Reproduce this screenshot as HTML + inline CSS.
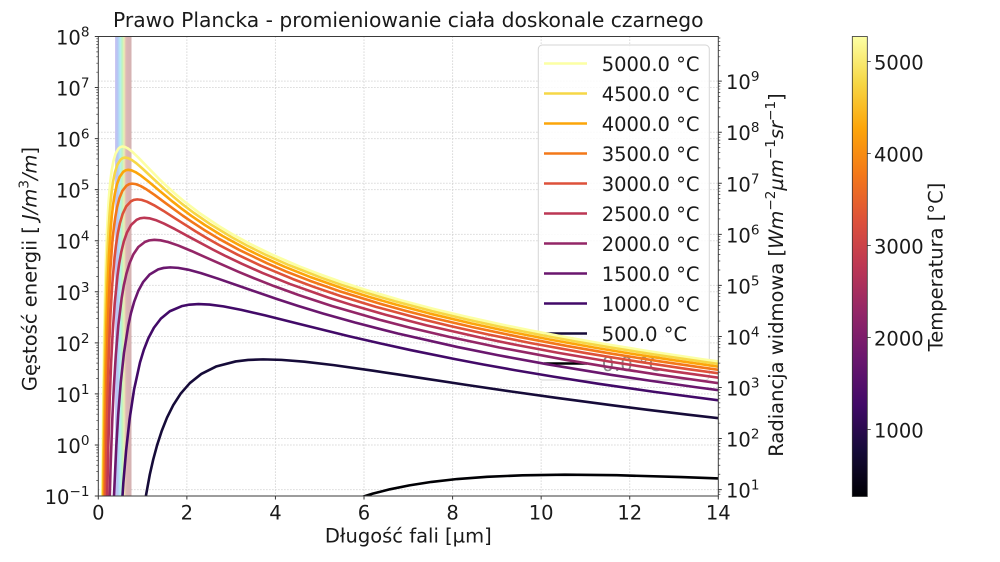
<!DOCTYPE html>
<html><head><meta charset="utf-8">
<style>
html,body{margin:0;padding:0;background:#fff;width:1000px;height:562px;overflow:hidden;}
svg{display:block;font-family:"DejaVu Sans","Liberation Sans",sans-serif;}
text{fill:#1a1a1a;}
</style></head><body>
<svg width="1000" height="562" viewBox="0 0 1000 562" xmlns="http://www.w3.org/2000/svg">
<defs>
<clipPath id="clip"><rect x="98.3" y="36.5" width="620" height="459.5"/></clipPath>
<linearGradient id="vis" x1="0" y1="0" x2="1" y2="0">
<stop offset="0" stop-color="#c8bef0"/>
<stop offset="0.16" stop-color="#b4c8f5"/>
<stop offset="0.32" stop-color="#b4f0f0"/>
<stop offset="0.43" stop-color="#bef5be"/>
<stop offset="0.55" stop-color="#ecefb6"/>
<stop offset="0.61" stop-color="#e6ccb4"/>
<stop offset="0.7" stop-color="#dcb6b6"/>
<stop offset="1" stop-color="#d4b2b2"/>
</linearGradient>
<linearGradient id="inf" x1="0" y1="1" x2="0" y2="0">
<stop offset="0" stop-color="#000004"/>
<stop offset="0.1" stop-color="#160b39"/>
<stop offset="0.2" stop-color="#420a68"/>
<stop offset="0.3" stop-color="#6a176e"/>
<stop offset="0.4" stop-color="#932667"/>
<stop offset="0.5" stop-color="#bc3754"/>
<stop offset="0.6" stop-color="#dd513a"/>
<stop offset="0.7" stop-color="#f37819"/>
<stop offset="0.8" stop-color="#fca50a"/>
<stop offset="0.9" stop-color="#f6d746"/>
<stop offset="1" stop-color="#fcffa4"/>
</linearGradient>
</defs>
<rect width="1000" height="562" fill="#fff"/>

<!-- grid -->
<path d="M186.87 36.5V496M275.44 36.5V496M364.01 36.5V496M452.59 36.5V496M541.16 36.5V496M629.73 36.5V496
M98.3 444.94H718.3M98.3 393.89H718.3M98.3 342.83H718.3M98.3 291.78H718.3M98.3 240.72H718.3M98.3 189.66H718.3M98.3 138.61H718.3M98.3 87.55H718.3
M98.3 489.6H718.3M98.3 438.55H718.3M98.3 387.5H718.3M98.3 336.44H718.3M98.3 285.39H718.3M98.3 234.33H718.3M98.3 183.28H718.3M98.3 132.22H718.3M98.3 81.17H718.3" stroke="#cfcfcf" stroke-width="1" stroke-dasharray="1.2 1.8" fill="none"/>

<rect x="115.1" y="36.5" width="16.4" height="459.5" fill="url(#vis)"/>

<!-- legend -->
<rect x="538.3" y="45" width="171" height="335" rx="4" ry="4" fill="#fff" fill-opacity="0.85" stroke="#d5d5d5" stroke-width="1"/>
<g stroke-width="2.6">
<line x1="544" y1="63.5" x2="587" y2="63.5" stroke="#fcffa4"/>
<line x1="544" y1="93.5" x2="587" y2="93.5" stroke="#f6d746"/>
<line x1="544" y1="123.5" x2="587" y2="123.5" stroke="#fca50a"/>
<line x1="544" y1="153.5" x2="587" y2="153.5" stroke="#f37819"/>
<line x1="544" y1="183.5" x2="587" y2="183.5" stroke="#dd513a"/>
<line x1="544" y1="213.5" x2="587" y2="213.5" stroke="#bc3754"/>
<line x1="544" y1="243.5" x2="587" y2="243.5" stroke="#932667"/>
<line x1="544" y1="273.5" x2="587" y2="273.5" stroke="#6a176e"/>
<line x1="544" y1="303.5" x2="587" y2="303.5" stroke="#420a68"/>
<line x1="544" y1="333.5" x2="587" y2="333.5" stroke="#160b39"/>
<line x1="544" y1="363.5" x2="587" y2="363.5" stroke="#000004"/>
</g>
<g font-size="19.5">
<text x="601.7" y="70.8">5000.0 °C</text>
<text x="601.7" y="100.8">4500.0 °C</text>
<text x="601.7" y="130.8">4000.0 °C</text>
<text x="601.7" y="160.8">3500.0 °C</text>
<text x="601.7" y="190.8">3000.0 °C</text>
<text x="601.7" y="220.8">2500.0 °C</text>
<text x="601.7" y="250.8">2000.0 °C</text>
<text x="601.7" y="280.8">1500.0 °C</text>
<text x="601.7" y="310.8">1000.0 °C</text>
<text x="601.7" y="340.8">500.0 °C</text>
<text x="601.7" y="370.8" style="fill:#8a8a8a">0.0 °C</text>
</g>

<!-- curves -->
<g clip-path="url(#clip)" fill="none" stroke-width="2.6" stroke-linejoin="round">
<path stroke="#fcffa4" d="M734.3 363.68L702.5 359.24 647.57 351.02 601.8 343.53 563.07 336.66 529.87 330.32 501.1 324.43 464.48 316.33 433.97 308.97 400.4 300.09 366.83 290.24 339.98 281.49 318.01 273.64 299.7 266.53 270.93 254.09 249.35 243.49 232.57 234.31 219.14 226.24 199 212.69 184.61 201.7 173.83 192.61 165.43 184.98 158.72 178.52 146.64 166.19 138.58 157.83 132.83 152.28 128.51 148.83 125.15 147.02 122.47 146.52 120.27 147.1 118.44 148.58 115.56 153.69 113.41 161.08 111.73 170.2 110.38 180.69 109.29 192.3 108.37 204.83 106.93 232.09 105.85 261.62 105.01 292.91 104.34 325.57 103.55 376.61 102.95 429.52 102.47 483.95 102.08 539.55"/>
<path stroke="#f6d746" d="M733.97 366.08L705.07 362.07 654.51 354.58 611.72 347.71 575.05 341.37 543.27 335.48 502.82 327.38 469.11 320.02 432.03 311.14 394.94 301.29 365.28 292.54 341.01 284.69 320.78 277.58 289 265.14 265.16 254.54 246.62 245.36 231.79 237.29 209.54 223.74 193.65 212.75 181.73 203.66 172.46 196.03 165.05 189.57 151.7 177.24 142.8 168.88 136.44 163.33 131.67 159.88 127.96 158.07 125 157.57 122.57 158.15 120.55 159.63 117.37 164.74 114.99 172.13 113.13 181.25 111.65 191.74 110.44 203.35 109.42 215.88 107.84 243.14 106.64 272.67 105.72 303.96 104.97 336.62 104.1 387.66 103.43 440.57 102.9 495 102.47 545"/>
<path stroke="#fca50a" d="M719.59 366.84L671.8 359.97 630.84 353.63 595.33 347.74 550.15 339.64 512.49 332.28 471.08 323.4 429.66 313.55 396.52 304.8 369.41 296.95 346.82 289.84 311.31 277.4 284.69 266.8 263.98 257.62 247.41 249.55 222.56 236 204.81 225.01 191.49 215.92 181.14 208.29 172.86 201.83 157.94 189.5 148 181.14 140.9 175.59 135.58 172.14 131.44 170.33 128.12 169.83 125.41 170.41 123.15 171.89 119.6 177 116.94 184.39 114.87 193.51 113.21 204 111.86 215.61 110.73 228.14 108.95 255.4 107.62 284.93 106.58 316.22 105.76 348.88 104.78 399.92 104.03 452.83 103.44 507.26 102.96 545"/>
<path stroke="#f37819" d="M747.8 373.77L701.41 367.43 661.2 361.54 610.03 353.44 567.38 346.08 520.48 337.2 473.57 327.35 436.04 318.6 405.34 310.75 379.75 303.64 339.54 291.2 309.39 280.6 285.93 271.42 267.17 263.35 239.03 249.8 218.92 238.81 203.84 229.72 192.12 222.09 182.74 215.63 165.85 203.3 154.59 194.94 146.55 189.39 140.52 185.94 135.83 184.13 132.07 183.63 129 184.21 126.45 185.69 122.42 190.8 119.41 198.19 117.06 207.31 115.19 217.8 113.65 229.41 112.37 241.94 110.36 269.2 108.85 298.73 107.68 330.02 106.74 362.68 105.64 413.72 104.8 466.63 104.12 521.06 103.8 545"/>
<path stroke="#dd513a" d="M747.2 377.3L688.21 369.2 639.05 361.84 584.98 352.96 530.9 343.11 487.64 334.36 452.25 326.51 422.75 319.4 376.4 306.96 341.64 296.36 314.6 287.18 292.97 279.11 260.53 265.56 237.35 254.57 219.97 245.48 206.45 237.85 195.64 231.39 176.17 219.06 163.19 210.7 153.92 205.15 146.97 201.7 141.56 199.89 137.23 199.39 133.69 199.97 130.75 201.45 126.11 206.56 122.63 213.95 119.93 223.07 117.77 233.56 116 245.17 114.52 257.7 112.21 284.96 110.47 314.49 109.12 345.78 108.03 378.44 106.76 429.48 105.79 482.39 105.01 536.82"/>
<path stroke="#bc3754" d="M736.55 380.22L672.73 371.34 608.9 361.49 557.84 352.74 516.06 344.89 481.25 337.78 426.54 325.34 385.51 314.74 353.6 305.56 328.07 297.49 289.78 283.94 262.42 272.95 241.91 263.86 225.95 256.23 213.19 249.77 190.21 237.44 174.89 229.08 163.95 223.53 155.74 220.08 149.36 218.27 144.25 217.77 140.08 218.35 136.6 219.83 131.12 224.94 127.02 232.33 123.83 241.45 121.28 251.94 119.19 263.55 117.45 276.08 114.71 303.34 112.66 332.87 111.07 364.16 109.79 396.82 108.29 447.86 107.14 500.77 106.4 545"/>
<path stroke="#932667" d="M721.21 383.53L658.92 374.78 607.95 366.93 565.48 359.82 498.74 347.38 448.69 336.78 409.76 327.6 378.61 319.53 331.89 305.98 298.52 294.99 273.49 285.9 254.03 278.27 238.46 271.81 210.42 259.48 191.74 251.12 178.39 245.57 168.38 242.12 160.59 240.31 154.36 239.81 149.27 240.39 145.02 241.87 138.34 246.98 133.34 254.37 129.45 263.49 126.33 273.98 123.78 285.59 121.66 298.12 118.32 325.38 115.82 354.91 113.87 386.2 112.32 418.86 110.49 469.9 109.08 522.81 108.6 545"/>
<path stroke="#6a176e" d="M751.66 394.48L697.22 387.37 651.15 380.88 611.66 374.93 547.49 364.33 497.58 355.15 457.65 347.08 397.76 333.53 354.98 322.54 322.89 313.45 297.94 305.82 277.98 299.36 242.04 287.03 218.08 278.67 200.97 273.12 188.14 269.67 178.16 267.86 170.17 267.36 163.64 267.94 158.19 269.42 149.64 274.53 143.22 281.92 138.23 291.04 134.24 301.53 130.97 313.14 128.25 325.67 123.97 352.93 120.76 382.46 118.26 413.75 116.27 446.41 113.92 497.45 112.5 545"/>
<path stroke="#420a68" d="M723.9 401.05L654.39 391.87 598.78 383.8 553.28 376.65 515.37 370.25 483.28 364.48 455.79 359.26 411.1 350.17 376.34 342.54 348.54 336.08 298.49 323.75 265.13 315.39 241.29 309.84 223.42 306.39 209.52 304.58 198.4 304.08 189.3 304.66 181.71 306.14 169.8 311.25 160.86 318.64 153.91 327.76 148.35 338.25 143.8 349.86 140.01 362.39 134.05 389.65 129.58 419.18 126.1 450.47 123.32 483.13 120.06 534.17"/>
<path stroke="#160b39" d="M732.25 419.78L686.97 414.56 647.73 409.81 613.39 405.47 556.16 397.84 510.37 391.38 464.58 384.61 427.96 379.05 397.99 374.46 373.01 370.69 333.77 365.14 304.34 361.69 281.44 359.88 263.13 359.38 248.14 359.96 235.66 361.44 216.03 366.55 201.32 373.94 189.87 383.06 180.71 393.55 173.22 405.16 166.98 417.69 161.7 430.98 157.17 444.95 153.24 459.47 149.81 474.48 144.09 505.77 141.68 521.95"/>
<path stroke="#000004" d="M764.79 480.49L718.7 478.46 681.48 477.04 616.68 475.23 564.84 474.73 522.43 475.31 487.08 476.79 457.18 479.02 431.54 481.9 409.33 485.36 389.89 489.29 372.74 493.66 357.49 498.41 331.57 508.9 310.36 520.51 292.69 533.04"/>
</g>

<rect x="98.3" y="36.5" width="620" height="459.5" fill="none" stroke="#3a3a3a" stroke-width="1"/>

<!-- major ticks -->
<path stroke="#3a3a3a" stroke-width="1" fill="none" d="M94.8 496H98.3M94.8 444.94H98.3M94.8 393.89H98.3M94.8 342.83H98.3M94.8 291.78H98.3M94.8 240.72H98.3M94.8 189.66H98.3M94.8 138.61H98.3M94.8 87.55H98.3M94.8 36.5H98.3
M718.3 489.6H721.8M718.3 438.55H721.8M718.3 387.5H721.8M718.3 336.44H721.8M718.3 285.39H721.8M718.3 234.33H721.8M718.3 183.28H721.8M718.3 132.22H721.8M718.3 81.17H721.8
M98.3 496V499.5M186.87 496V499.5M275.44 496V499.5M364.01 496V499.5M452.59 496V499.5M541.16 496V499.5M629.73 496V499.5M718.3 496V499.5"/>
<!-- minor ticks -->
<path stroke="#3a3a3a" stroke-width="0.7" fill="none" d="
M96.3 480.63h2m-2-8.99h2m-2-6.38h2m-2-4.95h2m-2-4.04h2m-2-3.42h2m-2-2.96h2m-2-2.61h2
M96.3 429.57h2m-2-8.99h2m-2-6.38h2m-2-4.95h2m-2-4.04h2m-2-3.42h2m-2-2.96h2m-2-2.61h2
M96.3 378.52h2m-2-8.99h2m-2-6.38h2m-2-4.95h2m-2-4.04h2m-2-3.42h2m-2-2.96h2m-2-2.61h2
M96.3 327.46h2m-2-8.99h2m-2-6.38h2m-2-4.95h2m-2-4.04h2m-2-3.42h2m-2-2.96h2m-2-2.61h2
M96.3 276.41h2m-2-8.99h2m-2-6.38h2m-2-4.95h2m-2-4.04h2m-2-3.42h2m-2-2.96h2m-2-2.61h2
M96.3 225.35h2m-2-8.99h2m-2-6.38h2m-2-4.95h2m-2-4.04h2m-2-3.42h2m-2-2.96h2m-2-2.61h2
M96.3 174.29h2m-2-8.99h2m-2-6.38h2m-2-4.95h2m-2-4.04h2m-2-3.42h2m-2-2.96h2m-2-2.61h2
M96.3 123.24h2m-2-8.99h2m-2-6.38h2m-2-4.95h2m-2-4.04h2m-2-3.42h2m-2-2.96h2m-2-2.61h2
M96.3 72.18h2m-2-8.99h2m-2-6.38h2m-2-4.95h2m-2-4.04h2m-2-3.42h2m-2-2.96h2m-2-2.61h2
M718.3 494.55h2M718.3 491.94h2
M718.3 474.23h2m-2-8.99h2m-2-6.38h2m-2-4.95h2m-2-4.04h2m-2-3.42h2m-2-2.96h2m-2-2.61h2
M718.3 423.18h2m-2-8.99h2m-2-6.38h2m-2-4.95h2m-2-4.04h2m-2-3.42h2m-2-2.96h2m-2-2.61h2
M718.3 372.13h2m-2-8.99h2m-2-6.38h2m-2-4.95h2m-2-4.04h2m-2-3.42h2m-2-2.96h2m-2-2.61h2
M718.3 321.07h2m-2-8.99h2m-2-6.38h2m-2-4.95h2m-2-4.04h2m-2-3.42h2m-2-2.96h2m-2-2.61h2
M718.3 270.02h2m-2-8.99h2m-2-6.38h2m-2-4.95h2m-2-4.04h2m-2-3.42h2m-2-2.96h2m-2-2.61h2
M718.3 218.96h2m-2-8.99h2m-2-6.38h2m-2-4.95h2m-2-4.04h2m-2-3.42h2m-2-2.96h2m-2-2.61h2
M718.3 167.91h2m-2-8.99h2m-2-6.38h2m-2-4.95h2m-2-4.04h2m-2-3.42h2m-2-2.96h2m-2-2.61h2
M718.3 116.85h2m-2-8.99h2m-2-6.38h2m-2-4.95h2m-2-4.04h2m-2-3.42h2m-2-2.96h2m-2-2.61h2
M718.3 65.8h2m-2-8.99h2m-2-6.38h2m-2-4.95h2m-2-4.04h2m-2-3.42h2"/>

<!-- title -->
<text x="408.3" y="27" font-size="20.3" text-anchor="middle">Prawo Plancka - promieniowanie ciała doskonale czarnego</text>

<!-- left tick labels -->
<g font-size="19.5" text-anchor="end">
<text x="89.5" y="44.5">10<tspan dy="-8" font-size="13.6">8</tspan></text>
<text x="89.5" y="95.55">10<tspan dy="-8" font-size="13.6">7</tspan></text>
<text x="89.5" y="146.6">10<tspan dy="-8" font-size="13.6">6</tspan></text>
<text x="89.5" y="197.7">10<tspan dy="-8" font-size="13.6">5</tspan></text>
<text x="89.5" y="248.7">10<tspan dy="-8" font-size="13.6">4</tspan></text>
<text x="89.5" y="299.8">10<tspan dy="-8" font-size="13.6">3</tspan></text>
<text x="89.5" y="350.8">10<tspan dy="-8" font-size="13.6">2</tspan></text>
<text x="89.5" y="401.9">10<tspan dy="-8" font-size="13.6">1</tspan></text>
<text x="89.5" y="452.9">10<tspan dy="-8" font-size="13.6">0</tspan></text>
<text x="89.5" y="504">10<tspan dy="-8" font-size="13.6">−1</tspan></text>
</g>

<!-- right tick labels -->
<g font-size="19.5">
<text x="726" y="497.6">10<tspan dy="-8" font-size="13.6">1</tspan></text>
<text x="726" y="446.55">10<tspan dy="-8" font-size="13.6">2</tspan></text>
<text x="726" y="395.5">10<tspan dy="-8" font-size="13.6">3</tspan></text>
<text x="726" y="344.44">10<tspan dy="-8" font-size="13.6">4</tspan></text>
<text x="726" y="293.39">10<tspan dy="-8" font-size="13.6">5</tspan></text>
<text x="726" y="242.33">10<tspan dy="-8" font-size="13.6">6</tspan></text>
<text x="726" y="191.28">10<tspan dy="-8" font-size="13.6">7</tspan></text>
<text x="726" y="140.22">10<tspan dy="-8" font-size="13.6">8</tspan></text>
<text x="726" y="89.17">10<tspan dy="-8" font-size="13.6">9</tspan></text>
</g>

<!-- x tick labels -->
<g font-size="19.5" text-anchor="middle">
<text x="98.3" y="519.5">0</text>
<text x="186.87" y="519.5">2</text>
<text x="275.44" y="519.5">4</text>
<text x="364.01" y="519.5">6</text>
<text x="452.59" y="519.5">8</text>
<text x="541.16" y="519.5">10</text>
<text x="629.73" y="519.5">12</text>
<text x="718.3" y="519.5">14</text>
</g>

<!-- axis labels -->
<text x="408.3" y="542.5" font-size="19.5" text-anchor="middle">Długość fali [µm]</text>
<text transform="translate(36.5,269) rotate(-90)" font-size="19.5" text-anchor="middle">Gęstość energii [ <tspan font-style="italic">J/m</tspan><tspan dy="-8" font-size="13.6">3</tspan><tspan dy="8" font-style="italic">/m</tspan>]</text>
<text transform="translate(783,275) rotate(-90)" font-size="19.5" text-anchor="middle">Radiancja widmowa [<tspan font-style="italic">Wm</tspan><tspan dy="-8" font-size="13.6">−2</tspan><tspan dy="8" font-style="italic">µm</tspan><tspan dy="-8" font-size="13.6">−1</tspan><tspan dy="8" font-style="italic">sr</tspan><tspan dy="-8" font-size="13.6">−1</tspan><tspan dy="8">]</tspan></text>

<!-- colorbar -->
<rect x="852.3" y="36.5" width="15" height="460" fill="url(#inf)" stroke="#333" stroke-width="0.8"/>
<g stroke="#333" stroke-width="0.8">
<line x1="867.3" y1="61.6" x2="870.8" y2="61.6"/>
<line x1="867.3" y1="153.6" x2="870.8" y2="153.6"/>
<line x1="867.3" y1="245.6" x2="870.8" y2="245.6"/>
<line x1="867.3" y1="337.6" x2="870.8" y2="337.6"/>
<line x1="867.3" y1="429.6" x2="870.8" y2="429.6"/>
</g>
<g font-size="19.5">
<text x="874" y="69.6">5000</text>
<text x="874" y="161.6">4000</text>
<text x="874" y="253.6">3000</text>
<text x="874" y="345.6">2000</text>
<text x="874" y="437.6">1000</text>
</g>
<text transform="translate(942.5,267) rotate(-90)" font-size="19.5" text-anchor="middle">Temperatura [°C]</text>
</svg>
</body></html>
